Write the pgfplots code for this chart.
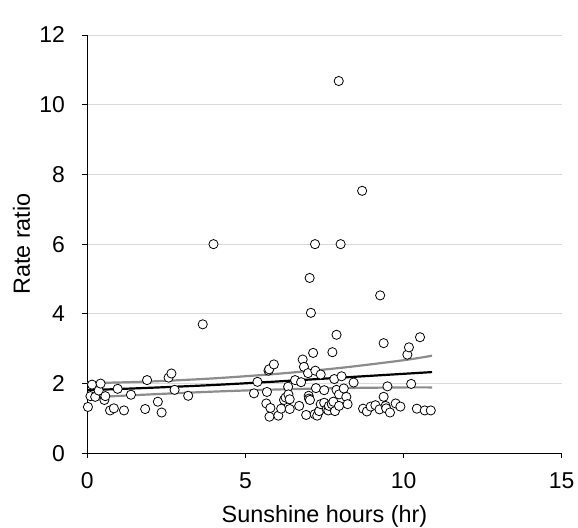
\documentclass[border=0pt]{standalone}
\usepackage{pgfplots}
\pgfplotsset{compat=1.18}
\usepackage{fontspec}
\setmainfont{Liberation Sans}
\begin{document}
\begin{tikzpicture}
\path[use as bounding box] (-87.3bp,-74.7bp) rectangle (490.7bp,453.3bp);
\begin{axis}[
  at={(0,0)}, anchor=south west,
  scale only axis, width=474.4bp, height=418.3bp,
  xmin=0, xmax=15, ymin=0, ymax=12,
  axis lines*=left,
  axis line style={black, line width=0.8pt},
  xtick={0,5,10,15}, ytick={0,2,...,12},
  tick align=outside, tick pos=left,
  major tick length=5bp,
  tick style={black, line width=0.8pt},
  ymajorgrids, grid style={draw=black!15, line width=0.8pt},
  /pgf/number format/assume math mode=true,
  ticklabel style={font=\fontsize{23}{27}\selectfont},
  xticklabel style={yshift=-11bp},
  yticklabel style={xshift=-14bp},
  label style={font=\fontsize{23.5}{27}\selectfont},
  xlabel={Sunshine hours (hr)},
  ylabel={Rate ratio},
  xlabel style={at={(axis description cs:0.5,-0.165)}, anchor=base},
  ylabel style={at={(axis description cs:-0.1208,0.5)}, anchor=base},
  clip=false,
]
\addplot[gray!90, line width=2.2bp, smooth] coordinates {(0,2.01)(2,2.06)(4,2.15)(6,2.28)(8,2.45)(10,2.67)(10.9,2.80)};
\addplot[gray!90, line width=2.2bp, smooth] coordinates {(0,1.60)(2,1.69)(4,1.77)(6,1.83)(8,1.87)(10,1.89)(10.9,1.89)};
\addplot[black, line width=2.2bp, smooth] coordinates {(0,1.81)(2,1.88)(4,1.96)(6,2.06)(8,2.17)(10,2.28)(10.9,2.33)};
\addplot[only marks, mark=*, mark size=4.6bp, mark options={fill=white, draw=black, line width=0.8pt}] table {
x y
0.02 1.33
0.10 1.64
0.15 1.97
0.25 1.62
0.36 1.80
0.42 2.00
0.54 1.53
0.57 1.64
0.72 1.23
0.84 1.29
0.96 1.85
1.16 1.23
1.38 1.68
1.83 1.27
1.89 2.10
2.23 1.48
2.35 1.17
2.57 2.17
2.66 2.29
2.76 1.82
3.19 1.65
3.65 3.70
3.99 6.00
5.27 1.72
5.38 2.05
5.66 1.43
5.68 1.76
5.73 2.37
5.75 2.41
5.76 1.05
5.79 1.30
5.90 2.55
6.04 1.08
6.13 1.28
6.22 1.53
6.27 1.60
6.35 1.91
6.36 1.69
6.40 1.55
6.40 1.27
6.57 2.10
6.70 1.36
6.76 2.04
6.81 2.69
6.85 2.48
6.92 1.10
6.98 2.30
7.00 1.65
7.01 1.57
7.04 1.53
7.03 5.03
7.07 4.03
7.14 2.88
7.19 1.12
7.20 6.00
7.21 2.37
7.23 1.87
7.27 1.08
7.33 1.21
7.38 2.26
7.38 1.41
7.49 1.81
7.49 1.45
7.57 1.26
7.62 1.23
7.64 1.36
7.73 1.41
7.75 2.90
7.78 1.48
7.81 2.13
7.83 1.21
7.88 3.40
7.88 1.82
7.95 10.68
7.96 1.69
7.96 1.36
8.01 6.00
8.04 2.21
8.11 1.86
8.19 1.62
8.23 1.41
8.42 2.03
8.69 7.53
8.72 1.28
8.84 1.20
8.96 1.34
9.11 1.38
9.24 1.26
9.26 4.53
9.37 3.16
9.37 1.62
9.43 1.36
9.45 1.29
9.49 1.92
9.57 1.17
9.75 1.43
9.90 1.34
10.12 2.83
10.17 3.04
10.24 1.99
10.42 1.28
10.52 3.33
10.67 1.23
10.86 1.23
};
\end{axis}
\end{tikzpicture}
\end{document}
